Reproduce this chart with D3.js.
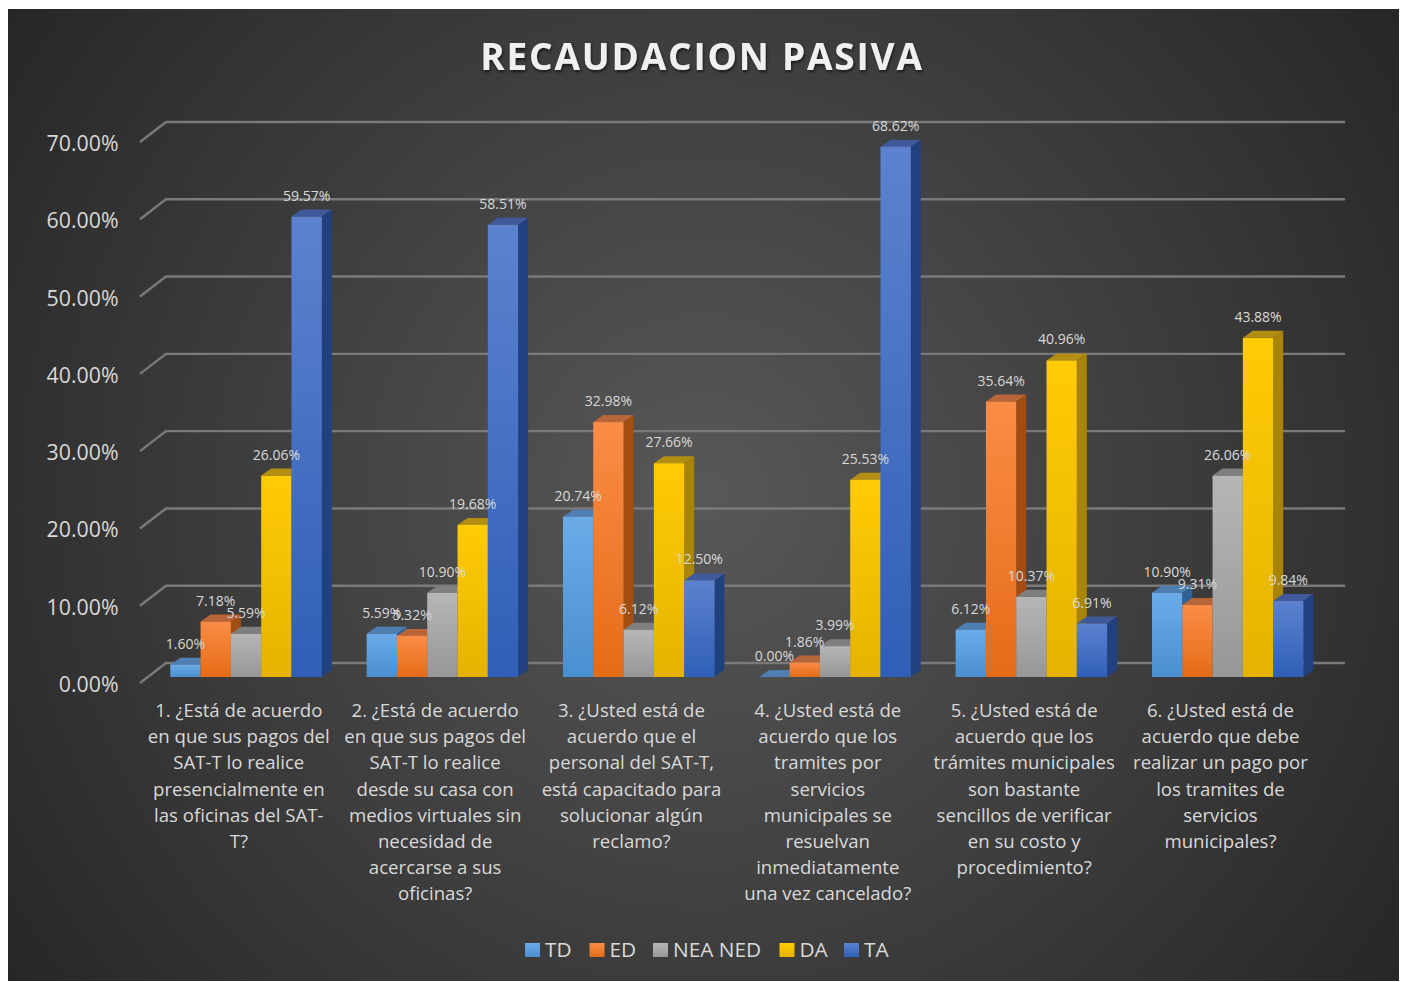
<!DOCTYPE html>
<html><head><meta charset="utf-8">
<script src="https://cdn.jsdelivr.net/npm/d3@7"></script>
<style>html,body{margin:0;padding:0;background:#fff}svg{display:block}text{font-family:"Open Sans",sans-serif}</style>
</head><body><div id="c"></div>
<script>
const categories = [
 ["1. ¿Está de acuerdo","en que sus pagos del","SAT-T lo realice","presencialmente en","las oficinas del SAT-","T?"],
 ["2. ¿Está de acuerdo","en que sus pagos del","SAT-T lo realice","desde su casa con","medios virtuales sin","necesidad de","acercarse a sus","oficinas?"],
 ["3. ¿Usted está de","acuerdo que el","personal del SAT-T,","está capacitado para","solucionar algún","reclamo?"],
 ["4. ¿Usted está de","acuerdo que los","tramites por","servicios","municipales se","resuelvan","inmediatamente","una vez cancelado?"],
 ["5. ¿Usted está de","acuerdo que los","trámites municipales","son bastante","sencillos de verificar","en su costo y","procedimiento?"],
 ["6. ¿Usted está de","acuerdo que debe","realizar un pago por","los tramites de","servicios","municipales?"]
];
const seriesNames = ["TD","ED","NEA NED","DA","TA"];
const TD = [1.60,5.59,20.74,0.00,6.12,10.90];
const ED = [7.18,5.32,32.98,1.86,35.64,9.31];
const NEA = [5.59,10.90,6.12,3.99,10.37,26.06];
const DA = [26.06,19.68,27.66,25.53,40.96,43.88];
const TA = [59.57,58.51,12.50,68.62,6.91,9.84];
const seriesValues = [TD,ED,NEA,DA,TA];
const yTicks = [0,10,20,30,40,50,60,70];
const frontTop = ["#6cabe8","#fb8c46","#b6b6b6","#ffcb05","#5c82cf"];
const frontBot = ["#4a8fd0","#e46c17","#979797","#e5b300","#2f5fb6"];
const topCol = ["#4f7fb2","#b8653a","#7f7f7f","#b28e12","#40599a"];
const sideCol = ["#2f6196","#a24d12","#6a6a6a","#a98507","#21407f"];
const legendX = [525,589.5,653,779.5,844];
const W=1405,H=982;
const svg=d3.select("#c").append("svg").attr("width",W).attr("height",H);
const defs=svg.append("defs");
const bg=defs.append("radialGradient").attr("id","bg").attr("gradientUnits","userSpaceOnUse")
 .attr("cx",703).attr("cy",495).attr("r",860);
bg.append("stop").attr("offset",0).attr("stop-color","#585858");
bg.append("stop").attr("offset",1).attr("stop-color","#262626");
seriesNames.forEach((s,i)=>{
 const g=defs.append("linearGradient").attr("id","g"+i).attr("x1",0).attr("x2",0).attr("y1",0).attr("y2",1);
 g.append("stop").attr("offset",0).attr("stop-color",frontTop[i]);
 g.append("stop").attr("offset",1).attr("stop-color",frontBot[i]);
});
const blur=defs.append("filter").attr("id","ts").attr("x","-5%").attr("y","-20%").attr("width","110%").attr("height","140%");
blur.append("feDropShadow").attr("dx",1).attr("dy",2).attr("stdDeviation",1.5).attr("flood-color","#000").attr("flood-opacity",0.6);

svg.append("rect").attr("x",8).attr("y",9).attr("width",1391).attr("height",972).attr("fill","url(#bg)");
svg.append("text").attr("x",702).attr("y",70).attr("text-anchor","middle").attr("font-size",37).attr("font-weight",700)
 .attr("letter-spacing",1.8).attr("fill","#f0f0f0").attr("filter","url(#ts)").text("RECAUDACION PASIVA");

const y=d3.scaleLinear().domain([0,70]).range([683,142]);
const dx=26,dy=20,gridRight=1345;
const grid=svg.append("g");
yTicks.forEach(t=>{
 grid.append("path").attr("d",`M140,${y(t)}L${140+dx},${y(t)-dy}L${gridRight},${y(t)-dy}`)
  .attr("fill","none").attr("stroke","#7a7a7a").attr("stroke-width",2.4);
 svg.append("text").attr("x",118.5).attr("y",y(t)+9).attr("text-anchor","end").attr("font-size",21.3).attr("fill","#d9d9d9").text(t.toFixed(2)+"%");
});
const x0=d3.scaleBand().domain(d3.range(6)).range([139.8,1317.8]);
const x1=d3.scaleBand().domain(d3.range(5)).range([30.5,182]);
const vy=d3.scaleLinear().domain([0,70]).range([677,136]);
const bdx=10,bdy=7;
const bars=svg.append("g"), labels=svg.append("g");
d3.range(6).forEach(c=>{
 seriesValues.forEach((vals,s)=>{
  const xa=x0(c)+x1(s),w=x1.bandwidth(),v=vals[c],t=vy(v),b=vy(0);
  const g=bars.append("g");
  g.append("path").attr("d",`M${xa+w},${t}L${xa+w+bdx},${t-bdy}L${xa+w+bdx},${b-bdy}L${xa+w},${b}Z`).attr("fill",sideCol[s]);
  g.append("path").attr("d",`M${xa},${t}L${xa+bdx},${t-bdy}L${xa+w+bdx},${t-bdy}L${xa+w},${t}Z`).attr("fill",topCol[s]);
  if(v>0) g.append("rect").attr("x",xa).attr("y",t).attr("width",w).attr("height",b-t).attr("fill",`url(#g${s})`);
  labels.append("text").attr("x",xa+w/2).attr("y",t-16).attr("text-anchor","middle").attr("font-size",14).attr("fill","#d9d9d9").text(v.toFixed(2)+"%");
 });
 const tx=svg.append("text").attr("text-anchor","middle").attr("font-size",18.6).attr("fill","#d9d9d9");
 categories[c].forEach((l,i)=>tx.append("tspan").attr("x",x0(c)+99).attr("y",717+i*26.2).text(l));
});
seriesNames.forEach((s,i)=>{
 svg.append("rect").attr("x",legendX[i]).attr("y",943).attr("width",15).attr("height",14).attr("fill",`url(#g${i})`);
 svg.append("text").attr("x",legendX[i]+20).attr("y",957).attr("font-size",20.8).attr("fill","#d9d9d9").text(s);
});
</script></body></html>
